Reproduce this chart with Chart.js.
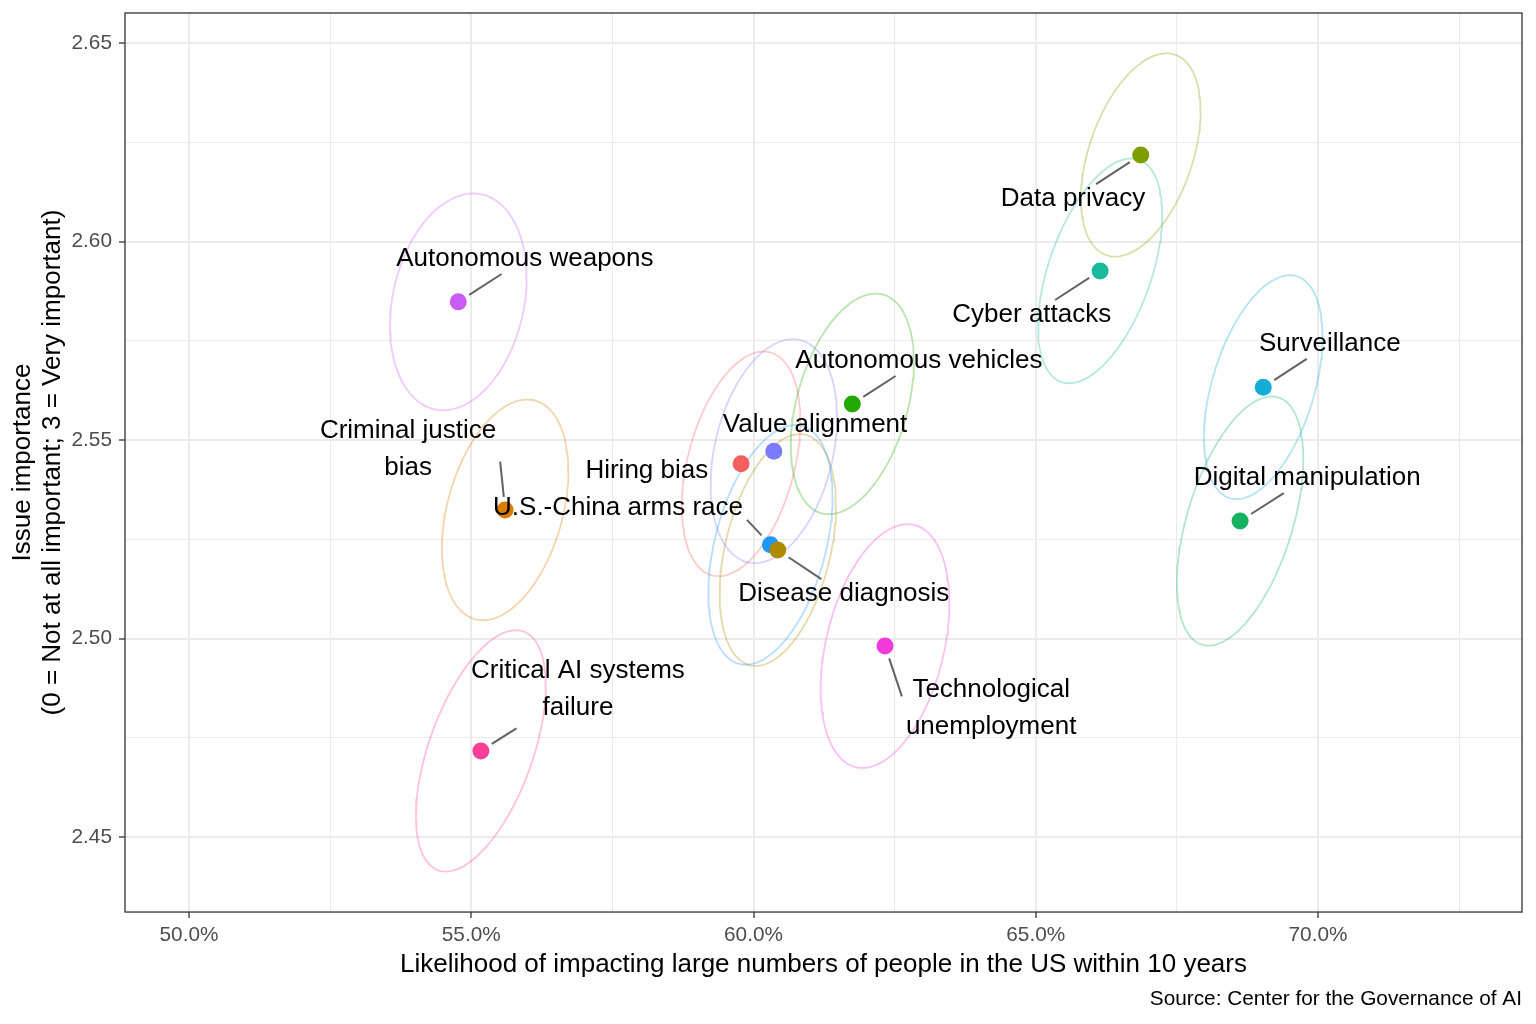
<!DOCTYPE html>
<html>
<head>
<meta charset="utf-8">
<script src="https://cdn.jsdelivr.net/npm/chart.js@4.4.1/dist/chart.umd.min.js"></script>
<style>
  html, body { margin: 0; padding: 0; background: #fff; }
  canvas { display: block; }
</style>
</head>
<body>
<canvas id="riskChart" width="1536" height="1024"></canvas>
<script>
const issues = [
  "Autonomous weapons", "Criminal justice bias", "Critical AI systems failure",
  "Hiring bias", "Value alignment", "U.S.-China arms race", "Disease diagnosis",
  "Autonomous vehicles", "Technological unemployment", "Data privacy",
  "Cyber attacks", "Surveillance", "Digital manipulation"
];
// likelihood in %, importance on the 0-3 scale
const likelihood = [54.77, 55.60, 55.17, 59.78, 60.36, 60.30, 60.43, 61.75, 62.33, 66.86, 66.14, 69.03, 68.62];
const importance = [2.5848, 2.5324, 2.4717, 2.5440, 2.5472, 2.5236, 2.5223, 2.5591, 2.4981, 2.6218, 2.5926, 2.5633, 2.5296];
const pointColors = [
  "#C95CF7", "#DB7B00", "#FF3F97", "#F25F5C", "#7B7BFF", "#1E97FF", "#AE8A00",
  "#22AA00", "#F23ADB", "#7C9E00", "#19B99A", "#15ACD5", "#17B162"
];
// uncertainty ellipses: half width (x), half height (y), correlation
const spreadX = [1.21, 1.12, 1.15, 1.05, 1.12, 1.10, 1.03, 1.09, 1.14, 1.06, 1.10, 1.05, 1.12];
const spreadY = [0.0273, 0.0278, 0.0304, 0.0283, 0.0282, 0.0302, 0.0292, 0.0278, 0.0307, 0.0256, 0.0283, 0.0282, 0.0314];
const spreadRho = [0.22, 0.35, 0.54, 0.38, 0.30, 0.40, 0.38, 0.38, 0.35, 0.43, 0.50, 0.45, 0.50];

const labelLines = [
  ["Autonomous weapons"], ["Criminal justice", "bias"], ["Critical AI systems", "failure"],
  ["Hiring bias"], ["Value alignment"], ["U.S.-China arms race"], ["Disease diagnosis"],
  ["Autonomous vehicles"], ["Technological", "unemployment"], ["Data privacy"],
  ["Cyber attacks"], ["Surveillance"], ["Digital manipulation"]
];
const labelX = [55.95, 53.88, 56.89, 58.11, 61.09, 57.60, 61.60, 62.93, 64.21, 65.66, 64.93, 70.21, 69.81];
const labelY = [2.5956, 2.5476, 2.4872, 2.5422, 2.5538, 2.5329, 2.5112, 2.5699, 2.4824, 2.6107, 2.5815, 2.5742, 2.5404];

const xTicks = [50, 55, 60, 65, 70];
const xMinorTicks = [52.5, 57.5, 62.5, 67.5, 72.5];
const yTicks = [2.45, 2.5, 2.55, 2.6, 2.65];
const yMinorTicks = [2.475, 2.525, 2.575, 2.625];

const FONT = '"Liberation Sans", Arial, Helvetica, sans-serif';
Chart.defaults.font.family = FONT;

function fade(hex, a) {
  const n = parseInt(hex.slice(1), 16);
  return `rgba(${n >> 16},${(n >> 8) & 255},${n & 255},${a})`;
}

function ellipse(i) {
  const pts = [];
  const k = Math.sqrt(1 - spreadRho[i] * spreadRho[i]);
  for (let s = 0; s <= 120; s++) {
    const t = s / 120 * 2 * Math.PI;
    pts.push({
      x: likelihood[i] + spreadX[i] * Math.cos(t),
      y: importance[i] + spreadY[i] * (spreadRho[i] * Math.cos(t) + k * Math.sin(t))
    });
  }
  return pts;
}

const ellipseSets = issues.map((name, i) => ({
  label: name + " ellipse",
  data: ellipse(i),
  showLine: true,
  borderColor: fade(pointColors[i], 0.32),
  borderWidth: 1.8,
  pointRadius: 0,
  pointHoverRadius: 0,
  fill: false,
  order: 2
}));

const pointSet = {
  label: "Issues",
  data: issues.map((_, i) => ({ x: likelihood[i], y: importance[i] })),
  backgroundColor: pointColors,
  borderWidth: 0,
  pointRadius: 8.5,
  pointHoverRadius: 8.5,
  order: 1
};

// text labels with leader segments, ggrepel style
const repelLabels = {
  id: "repelLabels",
  afterDatasetsDraw(chart) {
    const { ctx, chartArea: a } = chart;
    const x = chart.scales.x, y = chart.scales.y;
    ctx.save();
    ctx.strokeStyle = "#333333";
    ctx.lineWidth = 1.3;
    ctx.strokeRect(a.left, a.top, a.right - a.left, a.bottom - a.top);

    ctx.font = "26px " + FONT;
    const lh = 37;
    issues.forEach((name, i) => {
      const lines = labelLines[i];
      const px = x.getPixelForValue(likelihood[i]);
      const py = y.getPixelForValue(importance[i]);
      const lx = x.getPixelForValue(labelX[i]);
      const ly = y.getPixelForValue(labelY[i]);
      const hw = Math.max(...lines.map(l => ctx.measureText(l).width)) / 2 + 4;
      const hh = lines.length === 1 ? 15 : lines.length * lh / 2 + 2;
      const dx = px - lx, dy = py - ly;
      let ex, ey;
      if (Math.abs(dx) > hw && Math.abs(dy) > hh) {
        ex = lx + Math.sign(dx) * hw;
        ey = ly + Math.sign(dy) * 12;
      } else {
        const s = Math.min(hw / Math.abs(dx || 1e-6), hh / Math.abs(dy || 1e-6));
        ex = lx + dx * s;
        ey = ly + dy * s;
      }
      const d = Math.hypot(ex - px, ey - py);
      if (d - 13 > 18) {
        const sx = px + (ex - px) / d * 13, sy = py + (ey - py) / d * 13;
        ctx.strokeStyle = "#626262";
        ctx.lineWidth = 2;
        ctx.beginPath();
        ctx.moveTo(sx, sy);
        ctx.lineTo(ex, ey);
        ctx.stroke();
      }
      ctx.fillStyle = "#000000";
      ctx.textAlign = "center";
      ctx.textBaseline = "middle";
      lines.forEach((l, k) => {
        ctx.fillText(l, lx, ly + (k - (lines.length - 1) / 2) * lh);
      });
    });
    ctx.restore();
  }
};

const xAll = [...xTicks, ...xMinorTicks].sort((a, b) => a - b);
const yAll = [...yTicks, ...yMinorTicks].sort((a, b) => a - b);

const gridFor = major => ({
  color: "#EBEBEB",
  lineWidth: c => (major.includes(c.tick.value) ? 2 : 1),
  drawTicks: true,
  tickLength: 6,
  tickWidth: 1.3,
  tickColor: c => (major.includes(c.tick.value) ? "#333333" : "rgba(0,0,0,0)")
});

new Chart(document.getElementById("riskChart"), {
  type: "scatter",
  data: { datasets: [pointSet, ...ellipseSets] },
  plugins: [repelLabels],
  options: {
    responsive: false,
    devicePixelRatio: 1,
    animation: false,
    layout: { padding: { top: 13, right: 14, bottom: 0, left: 0 } },
    plugins: {
      legend: { display: false },
      tooltip: { enabled: false },
      title: {
        display: true,
        text: "Source: Center for the Governance of AI",
        position: "bottom",
        align: "end",
        color: "#000000",
        font: { size: 20.8, weight: "normal", lineHeight: 1.2 },
        padding: { top: 0, bottom: 12 }
      }
    },
    scales: {
      x: {
        type: "linear",
        min: 48.866,
        max: 73.614,
        afterBuildTicks: s => { s.ticks = xAll.map(v => ({ value: v })); },
        afterFit: s => { s.height = 75; s.paddingLeft = 0; s.paddingRight = 0; },
        ticks: {
          autoSkip: false,
          maxRotation: 0,
          padding: 5,
          color: "#4D4D4D",
          font: { size: 20.8 },
          callback: v => (xTicks.includes(v) ? v.toFixed(1) + "%" : "")
        },
        grid: gridFor(xTicks),
        border: { display: false },
        title: {
          display: true,
          text: "Likelihood of impacting large numbers of people in the US within 10 years",
          color: "#000000",
          font: { size: 26, lineHeight: 1.2 },
          padding: { top: 0, bottom: 7 }
        }
      },
      y: {
        type: "linear",
        min: 2.43111,
        max: 2.65756,
        afterBuildTicks: s => { s.ticks = yAll.map(v => ({ value: v })); },
        afterFit: s => { s.width = 125; s.paddingTop = 0; s.paddingBottom = 0; },
        ticks: {
          autoSkip: false,
          padding: 7,
          color: "#4D4D4D",
          font: { size: 20.8 },
          callback: v => (yTicks.includes(v) ? v.toFixed(2) : "")
        },
        grid: gridFor(yTicks),
        border: { display: false },
        title: {
          display: true,
          text: ["Issue importance", "(0 = Not at all important; 3 = Very important)"],
          color: "#000000",
          font: { size: 26, lineHeight: 1.15 },
          padding: { top: 8, bottom: 0 }
        }
      }
    }
  }
});
</script>
</body>
</html>
